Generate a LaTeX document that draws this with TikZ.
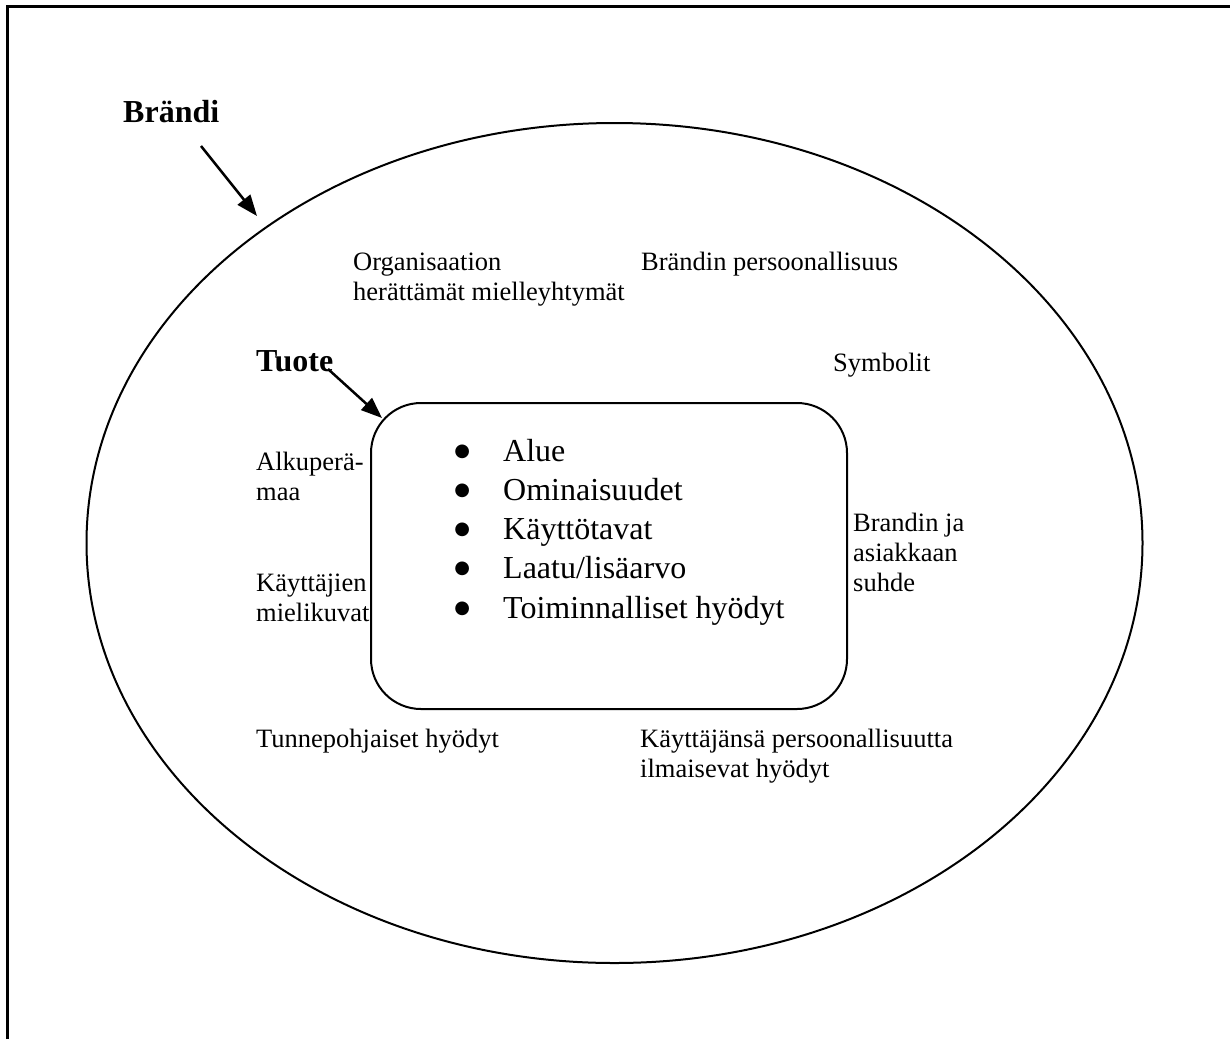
\documentclass[tikz,border=0pt]{standalone}
\usepackage{fontspec}
\setmainfont{Liberation Serif}
\newfontfamily\dotfont{DejaVu Sans}
\usetikzlibrary{arrows.meta,shapes.geometric}
% list bullet: a solid round dot, centred in an 11pt wide box
\newcommand{\bigdot}{\makebox[12pt][c]{\raisebox{5pt}{\dotfont\fontsize{18}{20}\selectfont ●}}}
\begin{document}
\begin{tikzpicture}[x=1pt,y=-1pt,
  lbl/.style={anchor=base west, inner sep=0pt, font=\fontsize{26.5}{30}\selectfont},
  headlbl/.style={anchor=base west, inner sep=0pt, font=\fontsize{32}{38}\selectfont\bfseries},
  pointer/.style={line width=2.5pt, -{Triangle[length=21pt,width=16pt]}},
  outline/.style={line width=2pt},
]
\useasboundingbox (0,0) rectangle (1230,1039);
% page frame (top and left edges only)
\draw[line width=3pt] (7,1039) -- (7,6.5) -- (1230,6.5);

% brand ellipse and product box
\node[draw, outline, ellipse, inner sep=0pt, minimum width=1056pt, minimum height=840pt] (brand) at (614.5,543) {};
\node[draw, outline, rounded corners=50pt, inner sep=0pt, minimum width=476pt, minimum height=306pt] (product) at (609,556) {};

% headings
\node[headlbl] (brandlbl) at (123,122) {Brändi};
\node[headlbl] (productlbl) at (256,371) {Tuote};

% pointers
\coordinate (brandfrom) at (201,146);
\coordinate (brandto) at (257,216);
\coordinate (productfrom) at (328,369);
\coordinate (productto) at (382,418);
\draw[pointer] (brandfrom) -- (brandto);
\draw[pointer] (productfrom) -- (productto);

% product contents
\node[anchor=base west, inner sep=0pt, font=\fontsize{32}{39.25}\selectfont] (items) at (456,461)
  {\begin{tabular}[t]{@{}p{47pt}@{}l@{}}
   \bigdot & Alue\\
   \bigdot & Ominaisuudet\\
   \bigdot & Käyttötavat\\
   \bigdot & Laatu/lisäarvo\\
   \bigdot & Toiminnalliset hyödyt
   \end{tabular}};

% brand associations
\node[lbl] (org) at (353,270) {\begin{tabular}[t]{@{}l@{}}Organisaation\\herättämät mielleyhtymät\end{tabular}};
\node[lbl] (pers) at (641,270) {Brändin persoonallisuus};
\node[lbl] (symb) at (833,371) {Symbolit};
\node[lbl] (origin) at (256,470) {\begin{tabular}[t]{@{}l@{}}Alkuperä-\\maa\end{tabular}};
\node[lbl] (users) at (256,591) {\begin{tabular}[t]{@{}l@{}}Käyttäjien\\mielikuvat\end{tabular}};
\node[lbl] (relation) at (853,531) {\begin{tabular}[t]{@{}l@{}}Brandin ja\\asiakkaan\\suhde\end{tabular}};
\node[lbl] (emot) at (256,747) {Tunnepohjaiset hyödyt};
\node[lbl] (expr) at (640,747) {\begin{tabular}[t]{@{}l@{}}Käyttäjänsä persoonallisuutta\\ilmaisevat hyödyt\end{tabular}};
\end{tikzpicture}
\end{document}
